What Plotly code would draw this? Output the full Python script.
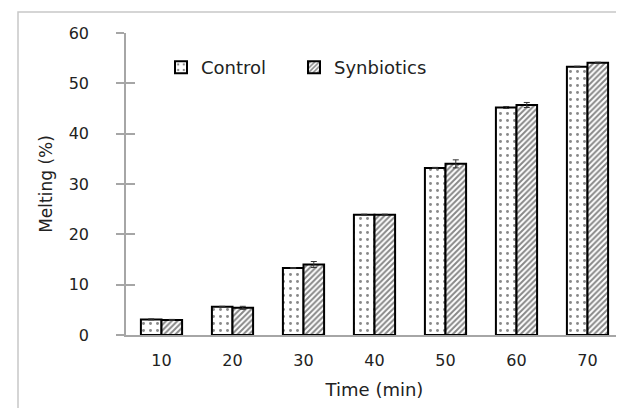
import plotly.graph_objects as go

categories = ["10", "20", "30", "40", "50", "60", "70"]
control = [3.1, 5.6, 13.3, 23.9, 33.2, 45.2, 53.3]
control_err = [0.1, 0.1, 0.1, 0.1, 0.1, 0.2, 0.1]
synbiotics = [3.0, 5.4, 14.0, 23.9, 34.0, 45.7, 54.1]
synbiotics_err = [0.1, 0.3, 0.6, 0.1, 0.8, 0.5, 0.1]

W, H = 624, 408
L, R, T, B = 118, 9, 25, 81
pw, ph = W - L - R, H - T - B

def px_x(p):
    return (p - L) / pw

def px_y(p):
    return (H - B - p) / ph

font = dict(family="DejaVu Sans, sans-serif", size=16, color="#222222")

fig = go.Figure()
fig.add_trace(go.Bar(
    name="Control", x=categories, y=control,
    error_y=dict(type="data", array=control_err, color="#333333", thickness=1, width=3),
    marker=dict(color="white", line=dict(color="black", width=2),
                pattern=dict(shape=".", fgcolor="#111111", bgcolor="white", size=7, solidity=0.14)),
))
fig.add_trace(go.Bar(
    name="Synbiotics", x=categories, y=synbiotics,
    error_y=dict(type="data", array=synbiotics_err, color="#333333", thickness=1, width=3),
    marker=dict(color="white", line=dict(color="black", width=2),
                pattern=dict(shape="/", fgcolor="#111111", bgcolor="white", size=4, solidity=0.5)),
))
# invisible trace on overlay axis to create inner ticks
fig.add_trace(go.Scatter(x=categories, y=[None] * len(categories), yaxis="y2",
                         showlegend=False, hoverinfo="skip"))

fig.update_layout(
    width=W, height=H,
    margin=dict(l=L, r=R, t=T, b=B, pad=0),
    paper_bgcolor="white", plot_bgcolor="white",
    font=font,
    barmode="group", bargap=0.42, bargroupgap=0.0,
    legend=dict(orientation="h", x=px_x(153), y=px_y(41), xanchor="left", yanchor="top",
                bgcolor="rgba(0,0,0,0)", font=dict(size=18), entrywidth=88, entrywidthmode="pixels",
                itemwidth=30),
    xaxis=dict(showline=True, linecolor="#a6a6a6", linewidth=1.5, ticks="",
               ticklabelstandoff=10,
               title=dict(text="Time (min)", standoff=14, font=dict(size=18)), tickfont=dict(size=16),
               showgrid=False),
    yaxis=dict(range=[0, 60], dtick=10, showline=True, linecolor="#a6a6a6", linewidth=1.5,
               ticks="outside", ticklen=8, tickcolor="#a6a6a6", tickwidth=1.5,
               showgrid=False, zeroline=False, ticklabelstandoff=24,
               title=dict(text="Melting (%)", standoff=12, font=dict(size=17)), tickfont=dict(size=16)),
    yaxis2=dict(range=[0, 60], dtick=10, overlaying="y", side="left", ticks="inside",
                ticklen=9, tickcolor="#a6a6a6", tickwidth=1.5, showticklabels=False,
                showgrid=False, zeroline=False, showline=False),
    shapes=[dict(type="rect", xref="paper", yref="paper",
                 x0=px_x(10), x1=px_x(700), y0=px_y(500), y1=px_y(4),
                 line=dict(color="#c8c8c8", width=1.5), fillcolor="rgba(0,0,0,0)", layer="below")],
)

fig.write_html("out.html")
